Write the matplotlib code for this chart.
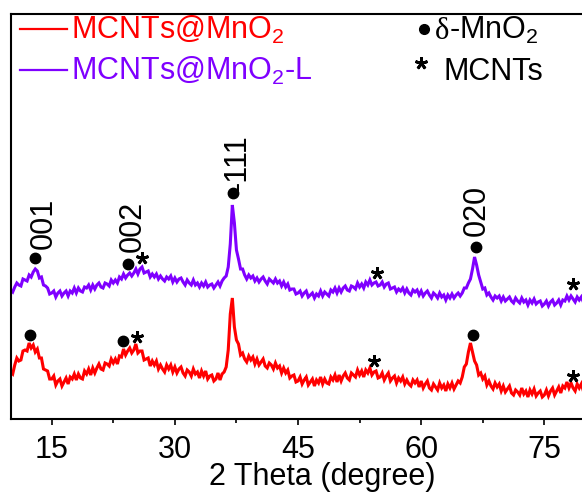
import numpy as np
import matplotlib
matplotlib.use('Agg')
import matplotlib.pyplot as plt
from matplotlib.lines import Line2D

plt.rcParams['font.family'] = ['Liberation Sans', 'DejaVu Sans']
plt.rcParams['mathtext.fontset'] = 'custom'
plt.rcParams['mathtext.rm'] = 'Liberation Sans'
plt.rcParams['mathtext.it'] = 'Liberation Sans:italic'
plt.rcParams['mathtext.bf'] = 'Liberation Sans:bold'

# ---------------- data ----------------
two_theta = np.arange(10.0, 80.001, 0.25)

# MCNTs@MnO2-L (purple), intensity (a.u.)
int_L = [
    129, 127, 132, 136, 134, 133, 140, 139, 138, 144, 142, 147, 150, 148, 141, 142, 134, 133, 131, 125,
    126, 128, 122, 126, 128, 123, 126, 128, 123, 128, 126, 131, 126, 131, 128, 127, 132, 131, 134, 129,
    134, 130, 134, 136, 132, 131, 136, 135, 133, 139, 136, 139, 136, 142, 140, 145, 141, 144, 146, 143,
    146, 150, 145, 150, 152, 146, 147, 148, 142, 145, 142, 145, 140, 143, 140, 138, 142, 140, 143, 137,
    141, 137, 140, 141, 137, 134, 139, 136, 134, 139, 134, 136, 132, 136, 133, 137, 132, 134, 135, 131,
    134, 137, 133, 138, 141, 143, 152, 175, 214, 196, 169, 160, 150, 150, 144, 140, 144, 141, 143, 138,
    141, 137, 140, 142, 138, 135, 140, 138, 136, 140, 136, 138, 133, 137, 132, 135, 129, 130, 130, 125,
    126, 128, 123, 126, 128, 122, 124, 126, 121, 125, 123, 128, 123, 127, 125, 123, 129, 127, 131, 126,
    131, 127, 131, 133, 129, 128, 133, 132, 130, 136, 132, 135, 131, 137, 134, 139, 134, 136, 137, 133,
    134, 137, 132, 135, 136, 130, 131, 132, 127, 130, 128, 131, 126, 130, 126, 124, 129, 127, 129, 124,
    128, 123, 126, 128, 124, 121, 126, 124, 121, 126, 122, 124, 119, 124, 121, 125, 121, 124, 126, 123,
    126, 131, 131, 136, 140, 150, 162, 154, 144, 137, 130, 131, 124, 126, 122, 119, 123, 121, 123, 118,
    122, 118, 120, 122, 118, 116, 121, 118, 116, 121, 117, 119, 114, 119, 116, 120, 115, 117, 118, 113,
    115, 118, 113, 117, 119, 114, 116, 119, 114, 119, 118, 123, 119, 123, 120, 117, 122, 119, 122, 117,
    119]

# MCNTs@MnO2 (red), intensity (a.u.)
int_M = [
    47, 45, 54, 61, 58, 59, 68, 69, 68, 76, 71, 74, 67, 70, 61, 61, 50, 49, 48, 40,
    40, 43, 34, 38, 40, 33, 37, 41, 35, 42, 40, 45, 39, 45, 41, 40, 48, 45, 50, 44,
    51, 46, 51, 55, 50, 49, 56, 55, 53, 60, 56, 60, 55, 63, 62, 70, 64, 68, 71, 66,
    69, 75, 66, 68, 68, 59, 60, 61, 53, 58, 54, 58, 50, 54, 50, 47, 54, 50, 54, 47,
    52, 46, 50, 52, 46, 43, 49, 47, 43, 50, 45, 47, 41, 48, 43, 48, 40, 43, 44, 38,
    40, 46, 39, 45, 47, 52, 69, 105, 121, 92, 79, 75, 64, 66, 60, 57, 63, 59, 62, 55,
    60, 54, 57, 60, 53, 51, 56, 54, 50, 56, 51, 53, 46, 51, 46, 49, 41, 43, 44, 37,
    38, 42, 35, 39, 42, 34, 37, 40, 33, 39, 36, 42, 35, 40, 36, 35, 42, 39, 44, 37,
    44, 38, 43, 46, 41, 39, 46, 44, 42, 49, 44, 48, 42, 49, 46, 51, 44, 47, 48, 41,
    42, 46, 39, 43, 46, 38, 41, 43, 36, 41, 38, 42, 35, 39, 35, 33, 39, 36, 39, 32,
    38, 31, 35, 38, 31, 29, 35, 32, 29, 36, 31, 34, 28, 35, 31, 36, 30, 34, 38, 36,
    42, 52, 55, 67, 76, 67, 58, 54, 44, 46, 40, 43, 34, 38, 33, 30, 36, 32, 35, 28,
    33, 27, 30, 33, 26, 24, 29, 27, 24, 31, 25, 28, 22, 29, 25, 30, 23, 26, 28, 22,
    24, 29, 23, 28, 31, 24, 28, 32, 26, 33, 31, 37, 31, 36, 31, 28, 35, 31, 35, 28,
    31]

# peak markers
dot_x_L = [12.97, 24.33, 37.12, 66.68]
dot_y_L = [160.7, 155.0, 226.3, 171.7]
star_x_L = [25.96, 54.59, 78.53]
star_y_L = [160.7, 146.3, 134.7]
dot_x_M = [12.36, 23.72, 66.28]
dot_y_M = [84.0, 78.3, 84.0]
star_x_M = [25.35, 54.26, 78.45]
star_y_M = [82.3, 58.3, 43.0]

hkl_labels = ['001', '002', '-111', '020']
hkl_x = [14.06, 24.9, 37.6, 66.8]
hkl_y = [196, 193, 256, 209]

xticks_major = [15, 30, 45, 60, 75]
xticks_minor = [22.5, 37.5, 52.5, 67.5]

series_names = ['MCNTs@MnO$_2$', 'MCNTs@MnO$_2$-L']
phase_delta = '\u03b4'
phase_names = ['-MnO$_2$', 'MCNTs']
x_label = '2 Theta (degree)'

RED = '#ff0000'
PURPLE = '#7f00ff'
STAR = (5, 2, 0)

# ---------------- figure ----------------
W, H = 582, 492
fig = plt.figure(figsize=(W / 100, H / 100), dpi=100)
left, right, top, bottom = 10.65, 585.4, 14, 419
ax = fig.add_axes([left / W, 1 - bottom / H, (right - left) / W, (bottom - top) / H])
ax.set_xlim(10, 80)
ax.set_ylim(0, 405)

ax.plot(two_theta, int_M, color=RED, lw=2.2, solid_joinstyle='miter')
ax.plot(two_theta, int_L, color=PURPLE, lw=2.2, solid_joinstyle='miter')

ax.plot(dot_x_L, dot_y_L, 'o', color='black', ms=7.5, ls='none')
ax.plot(dot_x_M, dot_y_M, 'o', color='black', ms=7.5, ls='none')
ax.plot(star_x_L, star_y_L, marker=STAR, color='black', ms=9, mew=2, ls='none')
ax.plot(star_x_M, star_y_M, marker=STAR, color='black', ms=9, mew=2, ls='none')

for s, x, y in zip(hkl_labels, hkl_x, hkl_y):
    ax.text(x, y, s, rotation=90, ha='center', va='center', fontsize=22)

for side in ['left', 'top', 'bottom', 'right']:
    ax.spines[side].set_linewidth(1.5)
ax.set_yticks([])
ax.set_xticks(xticks_major)
ax.set_xticks(xticks_minor, minor=True)
ax.tick_params(axis='x', which='major', direction='out', length=4.5, width=1.2, labelsize=22, pad=7)
ax.tick_params(axis='x', which='minor', direction='out', length=3, width=1.2)

# ---------------- legends (figure pixel coords) ----------------
def fx(px):
    return px / W

def fy(py):
    return 1 - py / H

fig.text(fx(322), fy(485), x_label, fontsize=22, ha='center', va='baseline')

fig.add_artist(Line2D([fx(20), fx(67)], [fy(29), fy(29)], color=RED, lw=1.6))
fig.add_artist(Line2D([fx(20), fx(67)], [fy(70), fy(70)], color=PURPLE, lw=1.6))
fig.text(fx(71), fy(39), series_names[0], color=RED, fontsize=22, va='baseline', ha='left')
fig.text(fx(71), fy(80), series_names[1], color=PURPLE, fontsize=22, va='baseline', ha='left')

fig.add_artist(Line2D([fx(424)], [fy(29)], marker='o', color='black', ms=7, ls='none'))
fig.add_artist(Line2D([fx(421)], [fy(63)], marker=STAR, color='black', ms=9, mew=2, ls='none'))
fig.text(fx(435), fy(39), phase_delta, color='black', fontsize=22, va='baseline', ha='left',
         family=['Liberation Serif', 'DejaVu Serif'])
fig.text(fx(449), fy(39), phase_names[0], color='black', fontsize=22, va='baseline', ha='left')
fig.text(fx(443), fy(80), phase_names[1], color='black', fontsize=22, va='baseline', ha='left')

fig.savefig('out.png', dpi=100)
